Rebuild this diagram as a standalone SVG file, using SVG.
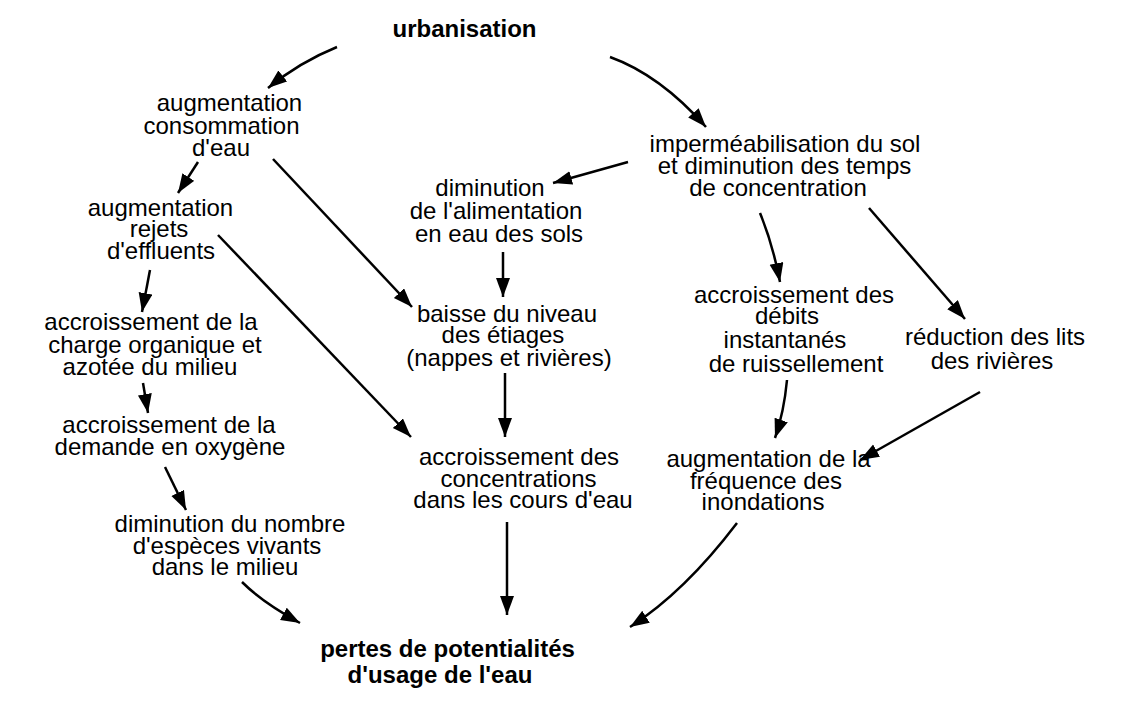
<svg xmlns="http://www.w3.org/2000/svg" width="1121" height="713" viewBox="0 0 1121 713">
<style>
text{font-family:"Liberation Sans",Arial,sans-serif;font-size:24px;fill:#000;text-anchor:middle}
.b{font-weight:bold}
.c{fill:none;stroke:#000;stroke-width:2.5;marker-end:url(#ah)}
</style>
<defs>
<marker id="ah" markerUnits="userSpaceOnUse" markerWidth="20" markerHeight="15" viewBox="0 0 20 15" refX="19" refY="7" orient="auto">
<path d="M0,0 L19,7 L0,14 Z" fill="#000"/>
</marker>
</defs>
<rect width="1121" height="713" fill="#fff"/>
<g id="n-urbanisation"><text class="b" x="464.5" y="37">urbanisation</text></g>
<g id="n-consommation"><text x="229.5" y="111">augmentation</text><text x="221.5" y="134">consommation</text><text x="221" y="156">d'eau</text></g>
<g id="n-rejets"><text x="160.5" y="216">augmentation</text><text x="159" y="237">rejets</text><text x="161" y="259">d'effluents</text></g>
<g id="n-alimentation"><text x="490" y="196">diminution</text><text x="496" y="219">de l'alimentation</text><text x="499" y="242">en eau des sols</text></g>
<g id="n-impermeabilisation"><text x="785" y="152">imperméabilisation du sol</text><text x="784.5" y="174">et diminution des temps</text><text x="778" y="196">de concentration</text></g>
<g id="n-etiages"><text x="507" y="322">baisse du niveau</text><text x="503" y="343">des étiages</text><text x="509" y="366">(nappes et rivières)</text></g>
<g id="n-charge"><text x="151" y="330">accroissement de la</text><text x="155" y="353">charge organique et</text><text x="150" y="375">azotée du milieu</text></g>
<g id="n-oxygene"><text x="169" y="433">accroissement de la</text><text x="170" y="455">demande en oxygène</text></g>
<g id="n-especes"><text x="230" y="532">diminution du nombre</text><text x="227" y="554">d'espèces vivants</text><text x="225" y="575">dans le milieu</text></g>
<g id="n-concentrations"><text x="519" y="465">accroissement des</text><text x="518.5" y="487">concentrations</text><text x="523" y="508">dans les cours d'eau</text></g>
<g id="n-debits"><text x="794" y="303">accroissement des</text><text x="787" y="324">débits</text><text x="785" y="348">instantanés</text><text x="796" y="372">de ruissellement</text></g>
<g id="n-lits"><text x="995" y="345">réduction des lits</text><text x="992" y="369">des rivières</text></g>
<g id="n-inondations"><text x="768.5" y="467">augmentation de la</text><text x="766" y="489">fréquence des</text><text x="763" y="510">inondations</text></g>
<g id="n-pertes"><text class="b" x="447.5" y="657">pertes de potentialités</text><text class="b" x="440" y="683">d'usage de l'eau</text></g>
<g id="connectors">
<path class="c" d="M337,47 Q300,62 268,88"/>
<path class="c" d="M610,57 Q660,75 706,127"/>
<path class="c" d="M198,162 L178,193"/>
<path class="c" d="M273,159 L412,307"/>
<path class="c" d="M218,235 L411,437"/>
<path class="c" d="M628,162 L553,183"/>
<path class="c" d="M503,252 L503,297"/>
<path class="c" d="M505,373 L505,437"/>
<path class="c" d="M760,213 Q773,245 780,282"/>
<path class="c" d="M869,208 L965,319"/>
<path class="c" d="M787,380 Q784,412 775,438"/>
<path class="c" d="M980,392 L860,460"/>
<path class="c" d="M507,522 L507,615"/>
<path class="c" d="M242,582 Q262,602 300,623"/>
<path class="c" d="M737,523 C718,548 680,595 630,627"/>
<path class="c" d="M150,270 L142,312"/>
<path class="c" d="M143,383 L148,413"/>
<path class="c" d="M165,467 L186,510"/>
</g>
</svg>
